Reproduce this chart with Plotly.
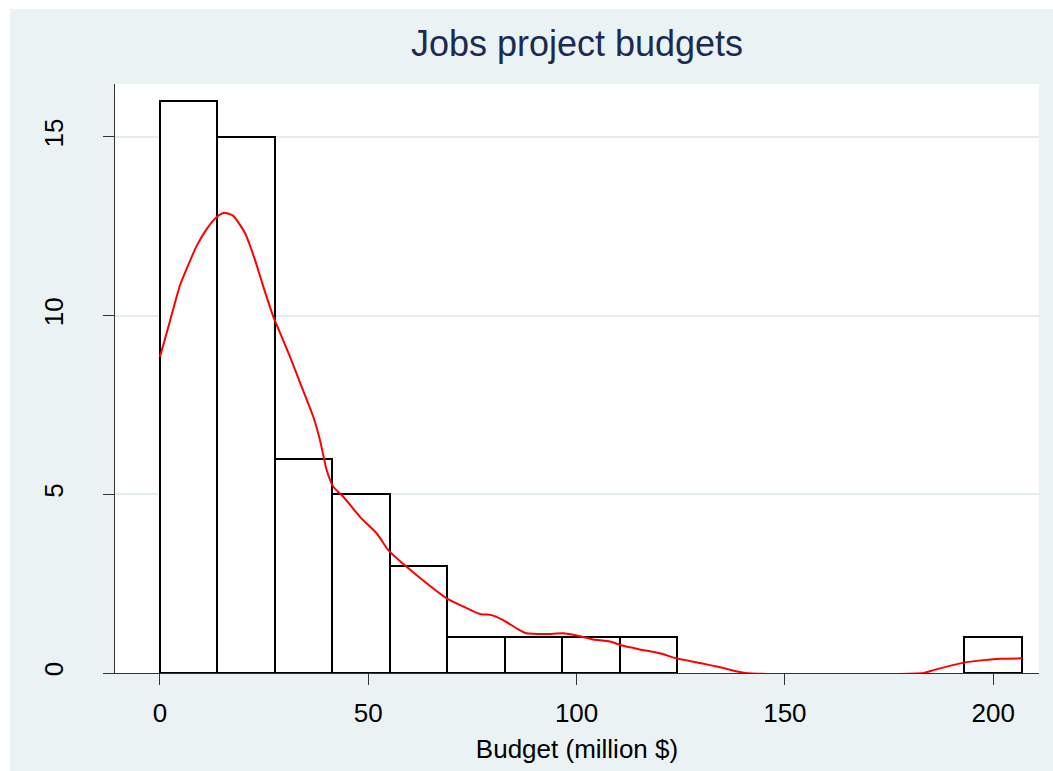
import plotly.graph_objects as go

# Histogram of project budgets (million $): fixed-width bins starting at 0
bin_start = 0.0
bin_width = 13.79
counts = [16, 15, 6, 5, 3, 1, 1, 1, 1, 0, 0, 0, 0, 0, 1]

# Kernel density estimate, scaled to frequency units
kde_x = [0, 2.4, 4.8, 6.8, 8.8, 11.2, 13.6, 15.4, 17.6, 20.4, 22.8, 24.8, 27.2,
         29.2, 31.2, 33.2, 36.8, 38.4, 40.0, 41.6, 44.0, 48.0, 52.0, 54.8, 59.2,
         64.0, 68.8, 72.8, 76.8, 79.6, 82.4, 85.6, 88.0, 92.8, 96.8, 100.0, 104.0,
         108.0, 111.2, 115.2, 120.0, 124.0, 129.6, 134.5, 140.5, 183.3, 185.7,
         192.9, 197.7, 201.7, 206.9]
kde_y = [8.85, 9.85, 10.85, 11.42, 11.95, 12.42, 12.76, 12.88, 12.79, 12.31,
         11.56, 10.81, 9.97, 9.41, 8.85, 8.25, 7.17, 6.52, 5.68, 5.21, 4.93, 4.37,
         3.91, 3.44, 2.97, 2.51, 2.09, 1.86, 1.65, 1.62, 1.48, 1.25, 1.11, 1.09,
         1.11, 1.05, 0.94, 0.88, 0.76, 0.66, 0.55, 0.41, 0.28, 0.16, 0.0, 0.0,
         0.08, 0.29, 0.36, 0.40, 0.41]

x_ticks = [0, 50, 100, 150, 200]
y_ticks = [0, 5, 10, 15]

title_text = "Jobs project budgets"
x_title = "Budget (million $)"

BG = "#EAF2F3"
FONT = "Liberation Sans, Arial, sans-serif"

centers = [bin_start + (i + 0.5) * bin_width for i, c in enumerate(counts) if c > 0]
heights = [c for c in counts if c > 0]

fig = go.Figure()
fig.add_trace(go.Bar(
    x=centers, y=heights, width=bin_width,
    marker=dict(color="white", line=dict(color="black", width=2)),
    hoverinfo="x+y", showlegend=False,
))
fig.add_trace(go.Scatter(
    x=kde_x, y=kde_y, mode="lines",
    line=dict(color="#FF0000", width=2, shape="spline", smoothing=0.5),
    showlegend=False,
))

W, H = 1053, 771
L, R, T, B = 115, 14, 84, 98
pw, ph = W - L - R, H - T - B
# thin white border along the top and left edges of the light panel
fig.add_shape(type="rect", xref="paper", yref="paper",
              x0=-L / pw, x1=1 + R / pw, y0=1 + (T - 9) / ph, y1=1 + T / ph,
              fillcolor="white", line=dict(width=0))
fig.add_shape(type="rect", xref="paper", yref="paper",
              x0=-L / pw, x1=(10 - L) / pw, y0=-B / ph, y1=1 + T / ph,
              fillcolor="white", line=dict(width=0))

fig.update_layout(
    width=W, height=H,
    margin=dict(l=L, r=R, t=T, b=B),
    paper_bgcolor=BG,
    plot_bgcolor="white",
    font=dict(family=FONT, color="black", size=26),
    title=dict(text=title_text, x=0.5, xref="paper", y=1 - 43 / H, yanchor="middle",
               font=dict(size=36, color="#1A2B52", family=FONT)),
    bargap=0,
    xaxis=dict(
        range=[-10.8, 211.0], tickvals=x_ticks, showgrid=False, zeroline=False,
        showline=True, linecolor="#333333", linewidth=1,
        ticks="outside", ticklen=11, tickcolor="#333333", tickwidth=1,
        tickfont=dict(size=26), ticklabelstandoff=6,
        title=dict(text=x_title, font=dict(size=26), standoff=12),
    ),
    yaxis=dict(
        range=[0, 16.48], tickvals=y_ticks, showgrid=True, gridcolor="#E3ECEE", gridwidth=2,
        zeroline=False, showline=True, linecolor="#333333", linewidth=1,
        ticks="outside", ticklen=11, tickcolor="#333333", tickwidth=1,
        tickangle=-90, tickfont=dict(size=26), ticklabelstandoff=30,
    ),
)

fig.write_html("out.html")
